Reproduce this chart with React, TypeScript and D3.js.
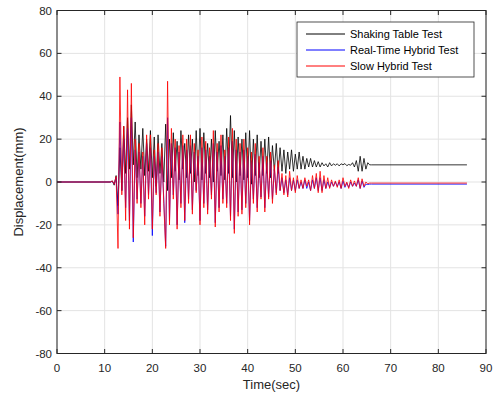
import React from "react";
import * as d3 from "d3";

// Sampling of the active segment (seconds)
const segStart = 11.2;
const segStep = 0.4;
const tEnd = 86;

const xTicks = [0, 10, 20, 30, 40, 50, 60, 70, 80, 90];
const yTicks = [-80, -60, -40, -20, 0, 20, 40, 60, 80];

const seriesNames = ["Shaking Table Test", "Real-Time Hybrid Test", "Slow Hybrid Test"];
const seriesColors = ["#000000", "#0000ff", "#ff0000"];

// Shaking table displacement (mm), samples from 11.2 s every 0.4 s
const shakingTable = [
  0, 0.5, -1.5, 3, -11, 16, -4, 26, 4, 30,
  6, 36, 8, 28, 2, 22, 6, 25, 3, 20,
  5, 24, 2, 21, -2, 22, 4, 18, 0, 27,
  -4, 20, 2, 23, 5, 19, 1, 24, 6, 18,
  2, 22, 4, 20, 0, 24, 3, 25, 1, 23,
  4, 18, 2, 20, 0, 24, 5, 19, 3, 22,
  1, 25, 4, 31, 2, 24, 0, 21, 3, 20,
  1, 23, 2, 24, -1, 20, 3, 22, 2, 19,
  3, 20, 4, 21, 2, 17, 5, 18, 4, 16,
  5, 15, 4, 14, 6, 15, 5, 13, 6, 14,
  6, 12, 6, 11, 7, 11, 7, 10, 7, 9.5,
  7, 9, 7.5, 8.5, 7, 9, 7.5, 8.5, 7.8, 8.5,
  7.5, 8.5, 8, 8.6, 7.6, 8.2, 7.8, 9, 7, 10,
  5, 12, 5, 11, 6, 9, 8, 8,
];
const shakingFinal = 8;

// Real-time hybrid test displacement (mm)
const realTimeHybrid = [
  0, 0.3, -1, 2, -15, 28, -4, 20, -12, 25,
  -18, 30, -28, 15, -8, 14, -10, 12, -16, 18,
  -6, 16, -25, 12, -5, 14, -14, 12, -8, -30,
  30, -18, 18, -6, 16, -20, 14, -10, 17, -19,
  15, -8, 17, -13, 14, -4, 12, -18, 16, -10,
  15, -13, 12, -6, 18, -19, 14, -12, 17, -8,
  12, -10, 16, -16, 19, -22, 15, -14, 14, -13,
  15, -10, 12, -18, 10, -8, 13, -12, 9, -7,
  12, -12, 9, -7, 10, -8, 6, -5, 7, -4,
  2, -5, 1, -6, 2, -4, 1, -4, 1, -3,
  0, -3, 1, -3, 0, -4, 1, -3, 2, -4,
  2, -4, 1, -3, 0, -2.5, 0, -2, 0, -2,
  0, -3, 0.5, -2.5, -0.5, -2.5, 0, -2, -0.5, -2,
  1, -3, 0.5, -2.5, -1, -1.2, -1, -1,
];
const realTimeFinal = -1;

// Slow hybrid test displacement (mm)
const slowHybrid = [
  0, 0.5, -1, 2.5, -31, 49, -6, 26, -18, 43,
  -22, 46, -26, 20, -10, 18, -12, 14, -20, 22,
  -8, 22, -22, 15, -6, 18, -16, 16, -10, -31,
  47, -20, 25, -8, 20, -22, 17, -12, 22, -18,
  20, -10, 22, -15, 18, -5, 15, -20, 21, -12,
  19, -15, 16, -8, 24, -21, 18, -14, 22, -10,
  15, -12, 21, -18, 25, -24, 20, -16, 18, -15,
  20, -12, 16, -20, 14, -10, 18, -14, 12, -8,
  16, -14, 12, -8, 14, -10, 8, -6, 10, -4,
  4, -6, 3, -7, 5, -4, 2, -5, 3, -3,
  1, -3, 2, -2, 1, -4, 3, -3, 4, -5,
  5, -5, 3, -3, 2, -3, 1, -2, 0.5, -2.5,
  1, -3, 2, -2, 0, -3, 1, -2, 0.5, -2,
  2, -3, 1.5, -2, 0, -0.8, -0.5, -0.5,
];
const slowFinal = -0.5;

const W = 498;
const H = 403;
const left = 57;
const right = 486;
const top = 10.5;
const bottom = 353.5;

function toPoints(vals: number[], finalVal: number): [number, number][] {
  const pts: [number, number][] = [[0, 0]];
  vals.forEach((v, i) => pts.push([segStart + i * segStep, v]));
  pts.push([tEnd, finalVal]);
  return pts;
}

export default function App() {
  const x = d3.scaleLinear().domain([0, 90]).range([left, right]);
  const y = d3.scaleLinear().domain([-80, 80]).range([bottom, top]);
  const line = d3
    .line<[number, number]>()
    .x((d) => x(d[0]))
    .y((d) => y(d[1]));

  const series = [
    toPoints(shakingTable, shakingFinal),
    toPoints(realTimeHybrid, realTimeFinal),
    toPoints(slowHybrid, slowFinal),
  ];

  const axisColor = "#262626";
  const font = "'Liberation Sans', Arial, sans-serif";
  const tickLen = 4.5;

  const legX = 297;
  const legY = 22;
  const legW = 177;
  const legH = 55;

  return (
    <svg
      width={W}
      height={H}
      style={{ position: "fixed", left: 0, top: 0, background: "#fff" }}
      fontFamily={font}
    >
      <rect x={0} y={0} width={W} height={H} fill="#fff" />
      <rect x={left} y={top} width={right - left} height={bottom - top} fill="#fff" />
      {/* grid */}
      {xTicks.map((t) => (
        <line key={"gx" + t} x1={x(t)} x2={x(t)} y1={top} y2={bottom} stroke="#e3e3e3" strokeWidth={1} />
      ))}
      {yTicks.map((t) => (
        <line key={"gy" + t} x1={left} x2={right} y1={y(t)} y2={y(t)} stroke="#e3e3e3" strokeWidth={1} />
      ))}
      <defs>
        <clipPath id="clip">
          <rect x={left} y={top} width={right - left} height={bottom - top} />
        </clipPath>
      </defs>
      {/* series */}
      <g clipPath="url(#clip)">
        {series.map((pts, i) => (
          <path
            key={i}
            d={line(pts) || ""}
            fill="none"
            stroke={seriesColors[i]}
            strokeWidth={0.8}
            strokeLinejoin="round"
          />
        ))}
      </g>
      {/* axes box */}
      <rect x={left} y={top} width={right - left} height={bottom - top} fill="none" stroke={axisColor} strokeWidth={1} />
      {/* ticks */}
      {xTicks.map((t) => (
        <g key={"tx" + t}>
          <line x1={x(t)} x2={x(t)} y1={bottom} y2={bottom - tickLen} stroke={axisColor} />
          <line x1={x(t)} x2={x(t)} y1={top} y2={top + tickLen} stroke={axisColor} />
          <text x={x(t)} y={372} textAnchor="middle" fontSize={11.5} fill={axisColor}>
            {t}
          </text>
        </g>
      ))}
      {yTicks.map((t) => (
        <g key={"ty" + t}>
          <line x1={left} x2={left + tickLen} y1={y(t)} y2={y(t)} stroke={axisColor} />
          <line x1={right} x2={right - tickLen} y1={y(t)} y2={y(t)} stroke={axisColor} />
          <text x={52} y={y(t) + 4} textAnchor="end" fontSize={11.5} fill={axisColor}>
            {t}
          </text>
        </g>
      ))}
      {/* axis titles */}
      <text x={(left + right) / 2} y={389} textAnchor="middle" fontSize={13} fill={axisColor}>
        Time(sec)
      </text>
      <text
        transform={`translate(23, ${(top + bottom) / 2}) rotate(-90)`}
        textAnchor="middle"
        fontSize={13}
        fill={axisColor}
      >
        Displacement(mm)
      </text>
      {/* legend */}
      <rect x={legX} y={legY} width={legW} height={legH} fill="#fff" stroke={axisColor} strokeWidth={0.8} />
      {seriesNames.map((name, i) => (
        <g key={name}>
          <line
            x1={306}
            x2={345}
            y1={legY + 12 + i * 16}
            y2={legY + 12 + i * 16}
            stroke={seriesColors[i]}
            strokeWidth={1}
          />
          <text x={350} y={legY + 16 + i * 16} fontSize={11} fill="#000">
            {name}
          </text>
        </g>
      ))}
    </svg>
  );
}
